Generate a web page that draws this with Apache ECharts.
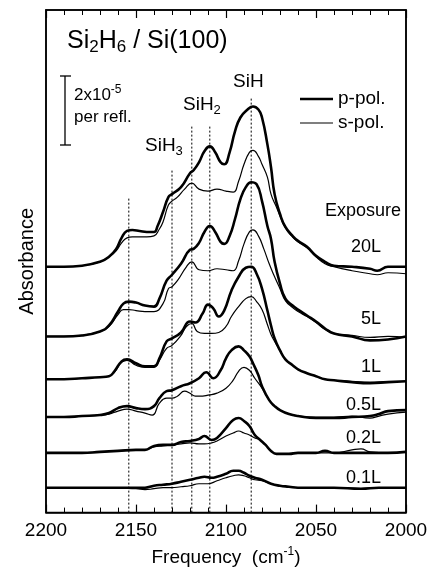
<!DOCTYPE html>
<html>
<head>
<meta charset="utf-8">
<title>Si2H6 / Si(100)</title>
<style>
  html, body { margin: 0; padding: 0; background: #fff; }
  #chart { width: 431px; height: 572px; }
</style>
<script src="https://cdn.jsdelivr.net/npm/echarts@6/dist/echarts.min.js"></script>
</head>
<body>
<div id="chart"></div>
<script>
// exposures, bottom to top, and the vertical offset of each trace (arb. units, 69 = 2x10^-5)
var exposures = ['0.1L', '0.2L', '0.5L', '1L', '5L', '20L'];
var offsets = [25, 60, 96, 134, 177, 247];

// [frequency (cm-1), absorbance above the trace baseline]
var p01 = [[2200,0],[2170,0],[2145,0],[2140,2],[2135,3],[2130,4],[2125,6],[2120,8],[2115,10],[2112,11],[2108,10],[2105,11],[2100,14],[2096,17],[2093,17],[2090,15],[2087,12],[2084,10],[2080,8],[2075,4],[2070,2],[2065,1],[2060,0],[2040,0],[2025,-1],[2015,0],[2000,0]];
var s01 = [[2200,0],[2170,0],[2150,-1],[2145,-2],[2140,-1],[2135,0],[2130,0],[2125,1],[2120,2],[2115,4],[2110,4],[2105,7],[2100,10],[2096,12],[2093,13],[2090,12],[2087,10],[2084,8],[2080,7],[2075,4],[2070,2],[2065,1],[2060,0],[2040,0],[2025,-1],[2015,0],[2000,0]];

var p02 = [[2200,0],[2180,0],[2170,1],[2160,2],[2150,3],[2145,3],[2140,7],[2135,8],[2130,8],[2125,11],[2120,12],[2115,14],[2112,17],[2108,13],[2105,15],[2100,25],[2096,33],[2093,35],[2090,32],[2087,27],[2084,18],[2081,13],[2078,8],[2075,2],[2072,-1],[2065,-1],[2060,0],[2050,0],[2045,2],[2040,0],[2030,0],[2020,0],[2010,0],[2000,1]];
var s02 = [[2200,0],[2180,0],[2170,1],[2160,2],[2150,3],[2145,3],[2140,6],[2135,7],[2130,8],[2125,9],[2120,10],[2115,9],[2112,9],[2108,10],[2105,12],[2100,17],[2096,20],[2093,22],[2090,20],[2087,18],[2084,15],[2081,13],[2078,8],[2075,2],[2072,-1],[2065,-1],[2060,0],[2050,0],[2040,0],[2030,3],[2025,4],[2020,1],[2010,0],[2000,1]];

var p05 = [[2200,0],[2190,0],[2180,1],[2170,2],[2165,4],[2160,9],[2155,11],[2150,9],[2145,8],[2140,11],[2137,19],[2133,26],[2130,27],[2125,31],[2120,34],[2115,39],[2111,45],[2107,39],[2103,47],[2100,59],[2097,67],[2093,71],[2090,67],[2087,61],[2085,54],[2082,42],[2080,31],[2076,17],[2073,11],[2070,7],[2065,3],[2060,1],[2050,-1],[2040,-1],[2030,0],[2020,1],[2015,3],[2010,6],[2000,7]];
var s05 = [[2200,0],[2190,0],[2180,1],[2170,2],[2165,3],[2160,6],[2155,8],[2150,6],[2145,4],[2141,2],[2137,14],[2133,19],[2130,19],[2127,21],[2123,26],[2120,24],[2117,21],[2113,21],[2110,22],[2105,24],[2100,29],[2096,37],[2093,46],[2090,50],[2087,47],[2084,39],[2080,29],[2076,17],[2073,11],[2070,7],[2065,3],[2060,1],[2050,0],[2040,0],[2030,1],[2020,-1],[2015,1],[2010,3],[2000,5]];

var p1 = [[2200,0],[2190,0],[2180,1],[2170,2],[2165,3],[2162,8],[2158,18],[2155,20],[2150,16],[2145,13],[2140,13],[2137,21],[2133,38],[2130,41],[2125,47],[2120,58],[2117,57],[2113,66],[2110,75],[2107,71],[2104,63],[2101,69],[2097,89],[2093,103],[2089,112],[2086,113],[2083,106],[2080,91],[2077,69],[2075,54],[2073,41],[2070,29],[2067,20],[2063,14],[2060,10],[2055,6],[2050,3],[2045,0],[2040,-1],[2030,-3],[2020,-4],[2010,-3],[2000,-2]];
var s1 = [[2200,0],[2190,0],[2180,1],[2170,2],[2165,3],[2162,7],[2158,17],[2155,19],[2150,14],[2145,12],[2140,12],[2137,19],[2133,31],[2130,34],[2125,44],[2122,53],[2119,56],[2116,48],[2112,46],[2108,46],[2104,47],[2100,53],[2097,63],[2093,73],[2089,81],[2086,83],[2083,78],[2080,70],[2077,55],[2075,45],[2073,38],[2070,29],[2067,20],[2063,14],[2060,10],[2055,6],[2050,3],[2045,0],[2040,-1],[2030,-2],[2020,-3],[2010,-2],[2000,-2]];

var p5 = [[2200,0],[2190,0],[2180,1],[2170,5],[2165,11],[2160,25],[2157,33],[2154,35],[2150,34],[2145,31],[2140,30],[2137,38],[2133,56],[2130,62],[2125,73],[2120,87],[2118,88],[2115,94],[2112,105],[2109,111],[2106,105],[2103,95],[2101,93],[2098,101],[2095,118],[2092,138],[2089,150],[2086,155],[2083,153],[2080,136],[2077,111],[2075,98],[2073,75],[2070,53],[2067,38],[2063,31],[2060,27],[2055,21],[2050,15],[2045,8],[2040,3],[2030,0],[2020,-4],[2010,-3],[2000,0]];
var s5 = [[2200,0],[2190,0],[2180,1],[2170,5],[2165,10],[2160,22],[2157,27],[2154,27],[2150,26],[2145,25],[2140,25],[2135,33],[2132,48],[2130,50],[2127,56],[2122,70],[2119,75],[2115,67],[2110,66],[2105,68],[2100,67],[2096,66],[2093,76],[2090,93],[2087,105],[2085,107],[2082,101],[2079,88],[2076,73],[2073,60],[2070,48],[2067,36],[2063,29],[2060,25],[2055,20],[2050,14],[2045,7],[2040,3],[2030,1],[2020,-1],[2010,0],[2000,-1]];

var p20 = [[2200,0],[2190,0],[2180,1],[2170,5],[2165,10],[2161,18],[2158,29],[2155,36],[2152,37],[2148,36],[2144,35],[2140,35],[2138,41],[2135,55],[2132,70],[2130,73],[2125,80],[2120,94],[2118,97],[2115,105],[2112,116],[2109,121],[2106,115],[2103,105],[2101,103],[2098,115],[2095,136],[2092,150],[2088,158],[2085,161],[2082,158],[2080,150],[2077,123],[2075,100],[2073,73],[2070,53],[2067,40],[2063,31],[2060,26],[2055,20],[2050,11],[2045,5],[2040,1],[2030,0],[2020,-2],[2016,-4],[2010,0],[2000,0]];
var s20 = [[2200,0],[2190,0],[2180,1],[2170,5],[2165,10],[2161,16],[2158,24],[2155,29],[2152,30],[2148,30],[2144,30],[2140,31],[2137,38],[2135,45],[2132,62],[2130,66],[2127,70],[2123,78],[2119,84],[2115,78],[2110,76],[2105,78],[2100,76],[2096,75],[2093,86],[2090,103],[2087,115],[2085,117],[2082,111],[2080,103],[2077,90],[2075,73],[2072,60],[2070,51],[2067,39],[2063,30],[2060,25],[2055,19],[2050,10],[2045,3],[2040,0],[2030,-4],[2020,-7],[2016,-8],[2010,-6],[2000,-7]];

var pSpectra = [p01, p02, p05, p1, p5, p20];
var sSpectra = [s01, s02, s05, s1, s5, s20];

// peak guide lines: frequency and how high they reach
var guideFreqs = [2154, 2130, 2119, 2109, 2086];
var guideTops = [317, 345, 389, 389, 417];

var chart = echarts.init(document.getElementById('chart'));
var font = 'Liberation Sans, Arial, Helvetica, sans-serif';

function shift(pts, off) {
  return pts.map(function (d) { return [d[0], d[1] + off]; });
}

var series = [];
guideFreqs.forEach(function (f, i) {
  series.push({
    type: 'line', symbol: 'none', silent: true, xAxisIndex: 1,
    data: [[f, 0], [f, guideTops[i]]],
    lineStyle: { color: '#000', width: 1, type: [2, 2] }
  });
});
exposures.forEach(function (name, i) {
  series.push({
    name: name + ' s', type: 'line', symbol: 'none', smooth: 0.5,
    data: shift(sSpectra[i], offsets[i]),
    lineStyle: { color: '#000', width: 1.2 }
  });
  series.push({
    name: name + ' p', type: 'line', symbol: 'none', smooth: 0.5,
    data: shift(pSpectra[i], offsets[i]),
    lineStyle: { color: '#000', width: 2.6 }
  });
});

var labelY = [479, 439, 406, 368, 320, 248];
var graphic = [
  { type: 'text', left: 67, top: 29, style: { text: '{a|Si}{s|2}{a|H}{s|6}{a| / Si(100)}', fill: '#000',
      rich: { a: { fontSize: 25, lineHeight: 29, fontFamily: font }, s: { fontSize: 17, lineHeight: 11, verticalAlign: 'bottom', fontFamily: font } } } },
  // scale bar
  { type: 'line', shape: { x1: 65, y1: 76, x2: 65, y2: 145 }, style: { stroke: '#000', lineWidth: 1.3 } },
  { type: 'line', shape: { x1: 60, y1: 76, x2: 71, y2: 76 }, style: { stroke: '#000', lineWidth: 1.3 } },
  { type: 'line', shape: { x1: 60, y1: 145, x2: 71, y2: 145 }, style: { stroke: '#000', lineWidth: 1.3 } },
  { type: 'text', left: 74, top: 84, style: { text: '{a|2x10}{e|-5}', fill: '#000',
      rich: { a: { fontSize: 17, lineHeight: 22, fontFamily: font }, e: { fontSize: 12, lineHeight: 12, verticalAlign: 'top', fontFamily: font } } } },
  { type: 'text', left: 74, top: 109, style: { text: 'per refl.', font: '17px ' + font, fill: '#000' } },
  // peak names
  { type: 'text', left: 145, top: 136, style: { text: '{a|SiH}{s|3}', fill: '#000',
      rich: { a: { fontSize: 19, lineHeight: 24, fontFamily: font }, s: { fontSize: 13, lineHeight: 9, verticalAlign: 'bottom', fontFamily: font } } } },
  { type: 'text', left: 183, top: 95, style: { text: '{a|SiH}{s|2}', fill: '#000',
      rich: { a: { fontSize: 19, lineHeight: 24, fontFamily: font }, s: { fontSize: 13, lineHeight: 9, verticalAlign: 'bottom', fontFamily: font } } } },
  { type: 'text', left: 233, top: 72, style: { text: 'SiH', font: '19px ' + font, fill: '#000' } },
  // legend
  { type: 'line', shape: { x1: 300, y1: 99, x2: 333, y2: 99 }, style: { stroke: '#000', lineWidth: 2.6 } },
  { type: 'line', shape: { x1: 300, y1: 123, x2: 333, y2: 123 }, style: { stroke: '#000', lineWidth: 1.2 } },
  { type: 'text', left: 338, top: 89, style: { text: 'p-pol.', font: '19px ' + font, fill: '#000' } },
  { type: 'text', left: 338, top: 113, style: { text: 's-pol.', font: '19px ' + font, fill: '#000' } },
  { type: 'text', left: 325, top: 202, style: { text: 'Exposure', font: '18px ' + font, fill: '#000' } }
];
exposures.forEach(function (name, i) {
  graphic.push({ type: 'text', right: 50, top: labelY[i] - 10, style: { text: name, font: '18px ' + font, fill: '#000' } });
});

function freqAxis(pos) {
  return {
    type: 'value', inverse: true, min: 2000, max: 2200, interval: 50, position: pos,
    axisLine: { show: true, onZero: false, lineStyle: { color: '#000', width: 1.5 } },
    axisTick: { show: true, inside: true, length: 8, lineStyle: { color: '#000', width: 1.2 } },
    minorTick: { show: true, splitNumber: 5, length: 5, lineStyle: { color: '#000', width: 1 } },
    splitLine: { show: false }, minorSplitLine: { show: false }
  };
}
var xBottom = freqAxis('bottom');
xBottom.axisLabel = { color: '#000', fontSize: 19, fontFamily: font, margin: 9,
  formatter: function (v) { return String(v); } };
xBottom.name = '{a|Frequency  (cm}{e|-1}{a|)}';
xBottom.nameLocation = 'middle';
xBottom.nameGap = 31;
xBottom.nameTextStyle = { color: '#000', fontFamily: font,
  rich: { a: { fontSize: 19, lineHeight: 24, fontFamily: font }, e: { fontSize: 12, lineHeight: 12, verticalAlign: 'top', fontFamily: font } } };
var xTop = freqAxis('top');
xTop.axisLabel = { show: false };

chart.setOption({
  animation: false,
  backgroundColor: '#fff',
  grid: { left: 46, right: 25, top: 10, bottom: 57, show: true, borderColor: '#000', borderWidth: 1.5, backgroundColor: 'transparent' },
  xAxis: [xBottom, xTop],
  yAxis: [{
    type: 'value', min: 0, max: 505, position: 'left',
    axisLine: { show: true, onZero: false, lineStyle: { color: '#000', width: 1.5 } },
    axisTick: { show: false }, axisLabel: { show: false }, splitLine: { show: false },
    name: 'Absorbance', nameLocation: 'middle', nameGap: 9,
    nameTextStyle: { color: '#000', fontSize: 20, fontFamily: font }
  }, {
    type: 'value', min: 0, max: 505, position: 'right',
    axisLine: { show: true, onZero: false, lineStyle: { color: '#000', width: 1.5 } },
    axisTick: { show: false }, axisLabel: { show: false }, splitLine: { show: false }
  }],
  series: series,
  graphic: graphic
});
</script>
</body>
</html>
